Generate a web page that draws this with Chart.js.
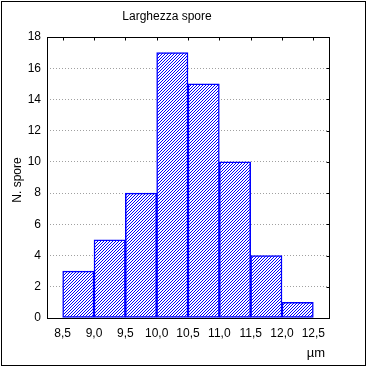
<!DOCTYPE html>
<html>
<head>
<meta charset="utf-8">
<script src="https://cdn.jsdelivr.net/npm/chart.js@4"></script>
<style>
  html, body { margin: 0; padding: 0; background: #fff; }
  #wrap { width: 367px; height: 367px; }
</style>
</head>
<body>
<div id="wrap"><canvas id="chartCanvas" width="367" height="367"></canvas></div>
<script>
// histogram classes (bin centres) and counts
const binCenters = [8.75, 9.25, 9.75, 10.25, 10.75, 11.25, 11.75, 12.25];
const counts = [3, 5, 8, 17, 15, 10, 4, 1];
const xTickValues = [8.5, 9.0, 9.5, 10.0, 10.5, 11.0, 11.5, 12.0, 12.5];
const xTickLabels = ["8,5", "9,0", "9,5", "10,0", "10,5", "11,0", "11,5", "12,0", "12,5"];
const yTickValues = [0, 2, 4, 6, 8, 10, 12, 14, 16, 18];

const FONT = "'Liberation Sans', Arial, sans-serif";

// diagonal hatch fill
function makeHatch() {
    const c = document.createElement("canvas");
    c.width = 3; c.height = 3;
    const g = c.getContext("2d");
    g.fillStyle = "#ffffff";
    g.fillRect(0, 0, 3, 3);
    g.fillStyle = "#0000ff";
    for (let i = 0; i < 3; i++) g.fillRect(i, 2 - i, 1, 1);
    return g.createPattern(c, "repeat");
}

// frame, inner ticks and texts
const framePlugin = {
    id: "frame",
    beforeDraw(chart) {
        const ctx = chart.ctx;
        ctx.save();
        ctx.fillStyle = "#fff";
        ctx.fillRect(0, 0, chart.width, chart.height);
        ctx.restore();
    },
    afterDraw(chart) {
        const ctx = chart.ctx;
        const a = chart.chartArea;
        const xs = chart.scales.x, ys = chart.scales.y;
        ctx.save();
        ctx.strokeStyle = "#000";
        ctx.lineWidth = 1;
        // outer border
        ctx.strokeRect(1.5, 1.5, 364, 364);
        // plot frame
        const l = Math.round(a.left) + 0.5, r = Math.round(a.right) + 0.5;
        const t = Math.round(a.top) + 0.5, b = Math.round(a.bottom) + 0.5;
        ctx.strokeRect(l, t, r - l, b - t);
        ctx.beginPath();
        xTickValues.forEach(v => {
            const px = Math.round(xs.getPixelForValue(v)) + 0.5;
            ctx.moveTo(px, t);
            ctx.lineTo(px, t + 3);
        });
        yTickValues.slice(1, -1).forEach(v => {
            const py = Math.round(ys.getPixelForValue(v)) + 0.5;
            ctx.moveTo(r, py);
            ctx.lineTo(r - 3, py);
        });
        ctx.stroke();
        // texts
        ctx.fillStyle = "#000";
        ctx.font = "12px " + FONT;
        ctx.textAlign = "center";
        ctx.textBaseline = "middle";
        ctx.fillText("Larghezza spore", 167, 17);
        ctx.font = "13px " + FONT;
        ctx.fillText("\u00b5m", 316, 353);
        ctx.font = "12px " + FONT;
        ctx.translate(18, 180);
        ctx.rotate(-Math.PI / 2);
        ctx.fillText("N. spore", 0, 0);
        ctx.restore();
    }
};

new Chart(document.getElementById("chartCanvas").getContext("2d"), {
    type: "bar",
    data: {
        datasets: [{
            data: binCenters.map((x, i) => ({ x: x, y: counts[i] })),
            backgroundColor: makeHatch(),
            borderColor: "#0000ff",
            borderWidth: 1.5,
            borderSkipped: false,
            barPercentage: 1,
            categoryPercentage: 1
        }]
    },
    options: {
        responsive: false,
        animation: false,
        layout: { padding: { left: 0, top: 37, right: 38, bottom: 0 } },
        plugins: { legend: { display: false }, tooltip: { enabled: false } },
        scales: {
            x: {
                type: "linear",
                offset: false,
                min: 8.25,
                max: 12.75,
                afterBuildTicks: s => { s.ticks = xTickValues.map(v => ({ value: v })); },
                afterFit: s => { s.height = 49; },
                grid: { display: false, offset: false, drawTicks: false },
                border: { display: false },
                ticks: {
                    color: "#000",
                    font: { family: FONT, size: 12 },
                    padding: 8,
                    maxRotation: 0,
                    autoSkip: false,
                    callback: (v) => xTickLabels[xTickValues.indexOf(v)]
                }
            },
            y: {
                min: 0,
                max: 18,
                afterBuildTicks: s => { s.ticks = yTickValues.map(v => ({ value: v })); },
                afterFit: s => { s.width = 47; },
                grid: { color: "#a0a0a0", lineWidth: 1, drawTicks: false },
                border: { display: false, dash: [1, 2] },
                ticks: {
                    color: "#000",
                    font: { family: FONT, size: 12 },
                    padding: 6
                }
            }
        }
    },
    plugins: [framePlugin]
});
</script>
</body>
</html>
